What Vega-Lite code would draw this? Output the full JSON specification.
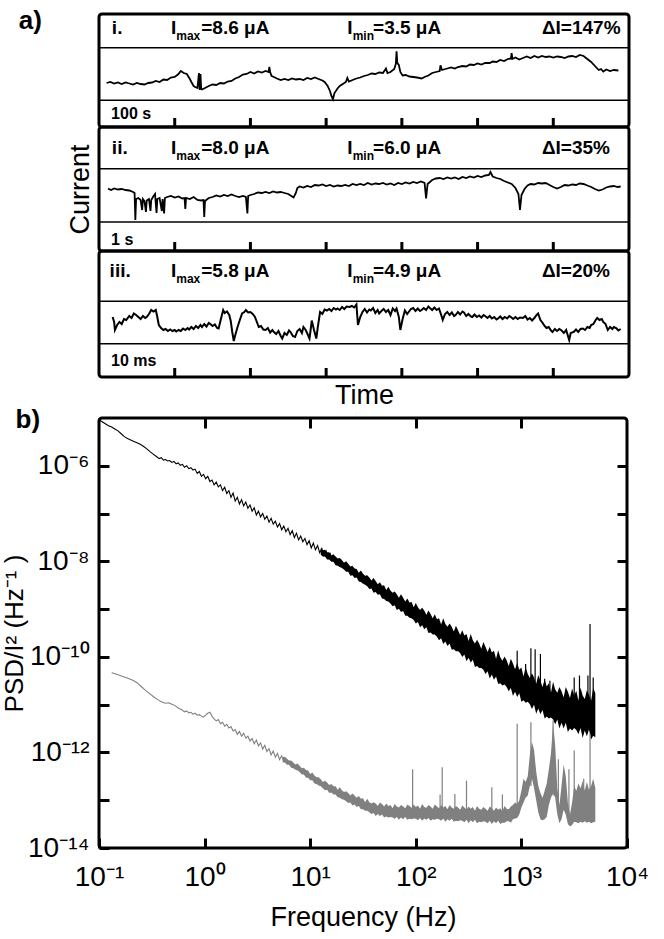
{
"$schema": "https://vega.github.io/schema/vega-lite/v6.json",
"background": "white",
"padding": {"left": 0, "top": 6, "right": 5, "bottom": 5},
"config": {
  "view": {"stroke": "black", "strokeWidth": 3, "cornerRadius": 3},
  "font": "Liberation Sans",
  "text": {"font": "Liberation Sans", "color": "black"},
  "axis": {"domain": false, "grid": false, "tickColor": "black", "tickWidth": 3, "tickSize": -10, "labelFont": "Liberation Sans", "labelColor": "black", "titleFont": "Liberation Sans", "titleColor": "black", "titleFontWeight": "normal", "labelOverlap": false, "labelFlush": false}
},
"datasets": {
"labels": [
 {"p":"i","roman":"i.","imax":"=8.6 μA","imin":"=3.5 μA","dI":"ΔI=147%","scale":"100 s"},
 {"p":"ii","roman":"ii.","imax":"=8.0 μA","imin":"=6.0 μA","dI":"ΔI=35%","scale":"1 s"},
 {"p":"iii","roman":"iii.","imax":"=5.8 μA","imin":"=4.9 μA","dI":"ΔI=20%","scale":"10 ms"}
],
"levels": [
 {"p":"i","level":26.7},{"p":"i","level":79.3},
 {"p":"ii","level":29},{"p":"ii","level":82.3},
 {"p":"iii","level":33.3},{"p":"iii","level":75.7}
],
"ticks": [{"t":1},{"t":2},{"t":3},{"t":4},{"t":5},{"t":6}],
"traces": [
{"p":"i","t":0.10,"v":44},{"p":"i","t":0.15,"v":45},{"p":"i","t":0.20,"v":43.5},{"p":"i","t":0.25,"v":44.5},{"p":"i","t":0.30,"v":43},{"p":"i","t":0.35,"v":44.5},{"p":"i","t":0.40,"v":43.5},{"p":"i","t":0.45,"v":42.5},{"p":"i","t":0.50,"v":44},{"p":"i","t":0.55,"v":43},{"p":"i","t":0.60,"v":42.5},{"p":"i","t":0.65,"v":44},{"p":"i","t":0.70,"v":44.5},{"p":"i","t":0.75,"v":46},{"p":"i","t":0.80,"v":45},{"p":"i","t":0.85,"v":47.5},{"p":"i","t":0.90,"v":47},{"p":"i","t":0.95,"v":49.5},{"p":"i","t":1.00,"v":50},{"p":"i","t":1.05,"v":53},{"p":"i","t":1.08,"v":56},{"p":"i","t":1.12,"v":54},{"p":"i","t":1.16,"v":53},{"p":"i","t":1.20,"v":48},{"p":"i","t":1.22,"v":45},{"p":"i","t":1.25,"v":41},{"p":"i","t":1.27,"v":40},{"p":"i","t":1.30,"v":39},{"p":"i","t":1.32,"v":54},{"p":"i","t":1.33,"v":37},{"p":"i","t":1.34,"v":53},{"p":"i","t":1.35,"v":38},{"p":"i","t":1.36,"v":37.5},{"p":"i","t":1.40,"v":39},{"p":"i","t":1.45,"v":41},{"p":"i","t":1.50,"v":42.5},{"p":"i","t":1.55,"v":42},{"p":"i","t":1.60,"v":44},{"p":"i","t":1.65,"v":43.5},{"p":"i","t":1.70,"v":45.5},{"p":"i","t":1.75,"v":46},{"p":"i","t":1.80,"v":48.5},{"p":"i","t":1.85,"v":50},{"p":"i","t":1.90,"v":52.5},{"p":"i","t":1.95,"v":53},{"p":"i","t":2.00,"v":55},{"p":"i","t":2.05,"v":53.5},{"p":"i","t":2.10,"v":55.5},{"p":"i","t":2.15,"v":54.5},{"p":"i","t":2.20,"v":56},{"p":"i","t":2.24,"v":55},{"p":"i","t":2.25,"v":60},{"p":"i","t":2.26,"v":55},{"p":"i","t":2.28,"v":51},{"p":"i","t":2.31,"v":50},{"p":"i","t":2.35,"v":48.5},{"p":"i","t":2.40,"v":47},{"p":"i","t":2.45,"v":48},{"p":"i","t":2.50,"v":47},{"p":"i","t":2.55,"v":48.5},{"p":"i","t":2.60,"v":47.5},{"p":"i","t":2.65,"v":48},{"p":"i","t":2.70,"v":47},{"p":"i","t":2.75,"v":49},{"p":"i","t":2.80,"v":48},{"p":"i","t":2.85,"v":49.5},{"p":"i","t":2.90,"v":48},{"p":"i","t":2.95,"v":46.5},{"p":"i","t":2.98,"v":45},{"p":"i","t":3.02,"v":41},{"p":"i","t":3.05,"v":36},{"p":"i","t":3.07,"v":31},{"p":"i","t":3.09,"v":27.7},{"p":"i","t":3.11,"v":34},{"p":"i","t":3.15,"v":38.5},{"p":"i","t":3.18,"v":41},{"p":"i","t":3.22,"v":43},{"p":"i","t":3.26,"v":45},{"p":"i","t":3.28,"v":49},{"p":"i","t":3.30,"v":45.5},{"p":"i","t":3.35,"v":47},{"p":"i","t":3.40,"v":48.5},{"p":"i","t":3.45,"v":49.5},{"p":"i","t":3.50,"v":51},{"p":"i","t":3.55,"v":52},{"p":"i","t":3.60,"v":53.5},{"p":"i","t":3.65,"v":53},{"p":"i","t":3.70,"v":54.5},{"p":"i","t":3.75,"v":54},{"p":"i","t":3.79,"v":58.5},{"p":"i","t":3.81,"v":54},{"p":"i","t":3.85,"v":55},{"p":"i","t":3.90,"v":58},{"p":"i","t":3.92,"v":63},{"p":"i","t":3.93,"v":75.7},{"p":"i","t":3.94,"v":64},{"p":"i","t":3.96,"v":62},{"p":"i","t":3.98,"v":55},{"p":"i","t":4.01,"v":51.5},{"p":"i","t":4.05,"v":52},{"p":"i","t":4.10,"v":50.5},{"p":"i","t":4.15,"v":50},{"p":"i","t":4.20,"v":49.5},{"p":"i","t":4.26,"v":48.5},{"p":"i","t":4.30,"v":50},{"p":"i","t":4.35,"v":51.5},{"p":"i","t":4.40,"v":54},{"p":"i","t":4.45,"v":55},{"p":"i","t":4.50,"v":56},{"p":"i","t":4.51,"v":61.7},{"p":"i","t":4.53,"v":57},{"p":"i","t":4.60,"v":58.5},{"p":"i","t":4.65,"v":59.5},{"p":"i","t":4.70,"v":58.5},{"p":"i","t":4.74,"v":60},{"p":"i","t":4.80,"v":61},{"p":"i","t":4.85,"v":60.5},{"p":"i","t":4.90,"v":62.5},{"p":"i","t":4.95,"v":62},{"p":"i","t":5.00,"v":63.5},{"p":"i","t":5.05,"v":62.5},{"p":"i","t":5.10,"v":64},{"p":"i","t":5.16,"v":64},{"p":"i","t":5.20,"v":65.5},{"p":"i","t":5.25,"v":65},{"p":"i","t":5.30,"v":67},{"p":"i","t":5.35,"v":66},{"p":"i","t":5.40,"v":68},{"p":"i","t":5.44,"v":68.5},{"p":"i","t":5.45,"v":74},{"p":"i","t":5.46,"v":68},{"p":"i","t":5.50,"v":69.5},{"p":"i","t":5.55,"v":67.5},{"p":"i","t":5.60,"v":69},{"p":"i","t":5.65,"v":70.5},{"p":"i","t":5.70,"v":69},{"p":"i","t":5.75,"v":71},{"p":"i","t":5.80,"v":69.5},{"p":"i","t":5.85,"v":71},{"p":"i","t":5.90,"v":70},{"p":"i","t":5.95,"v":70.5},{"p":"i","t":6.00,"v":69.5},{"p":"i","t":6.05,"v":70.5},{"p":"i","t":6.10,"v":70},{"p":"i","t":6.15,"v":69},{"p":"i","t":6.20,"v":70.5},{"p":"i","t":6.25,"v":71},{"p":"i","t":6.30,"v":70},{"p":"i","t":6.35,"v":72},{"p":"i","t":6.40,"v":71},{"p":"i","t":6.45,"v":68},{"p":"i","t":6.50,"v":65},{"p":"i","t":6.55,"v":61},{"p":"i","t":6.60,"v":57},{"p":"i","t":6.63,"v":58},{"p":"i","t":6.66,"v":55.5},{"p":"i","t":6.70,"v":57.5},{"p":"i","t":6.75,"v":56},{"p":"i","t":6.80,"v":57},{"p":"i","t":6.86,"v":56.5},
{"p":"ii","t":0.12,"v":62.3},{"p":"ii","t":0.16,"v":61},{"p":"ii","t":0.20,"v":62.5},{"p":"ii","t":0.25,"v":61.5},{"p":"ii","t":0.30,"v":62},{"p":"ii","t":0.35,"v":61},{"p":"ii","t":0.40,"v":60.5},{"p":"ii","t":0.45,"v":59},{"p":"ii","t":0.47,"v":58},{"p":"ii","t":0.48,"v":31},{"p":"ii","t":0.49,"v":52},{"p":"ii","t":0.52,"v":53},{"p":"ii","t":0.55,"v":51},{"p":"ii","t":0.57,"v":41},{"p":"ii","t":0.58,"v":52},{"p":"ii","t":0.60,"v":50},{"p":"ii","t":0.62,"v":39},{"p":"ii","t":0.63,"v":50.5},{"p":"ii","t":0.66,"v":52},{"p":"ii","t":0.68,"v":40},{"p":"ii","t":0.69,"v":51},{"p":"ii","t":0.72,"v":55},{"p":"ii","t":0.74,"v":57},{"p":"ii","t":0.76,"v":38},{"p":"ii","t":0.77,"v":52},{"p":"ii","t":0.80,"v":53},{"p":"ii","t":0.83,"v":40},{"p":"ii","t":0.84,"v":52},{"p":"ii","t":0.86,"v":37.5},{"p":"ii","t":0.87,"v":53},{"p":"ii","t":0.90,"v":54},{"p":"ii","t":0.95,"v":55},{"p":"ii","t":1.00,"v":53.5},{"p":"ii","t":1.05,"v":54.5},{"p":"ii","t":1.10,"v":52.5},{"p":"ii","t":1.13,"v":53},{"p":"ii","t":1.14,"v":42},{"p":"ii","t":1.15,"v":53},{"p":"ii","t":1.20,"v":52},{"p":"ii","t":1.25,"v":54},{"p":"ii","t":1.30,"v":51},{"p":"ii","t":1.35,"v":50.5},{"p":"ii","t":1.38,"v":51},{"p":"ii","t":1.39,"v":34},{"p":"ii","t":1.40,"v":50},{"p":"ii","t":1.45,"v":53},{"p":"ii","t":1.50,"v":54},{"p":"ii","t":1.55,"v":55.5},{"p":"ii","t":1.60,"v":54.5},{"p":"ii","t":1.65,"v":56},{"p":"ii","t":1.70,"v":55},{"p":"ii","t":1.75,"v":56.5},{"p":"ii","t":1.80,"v":55},{"p":"ii","t":1.85,"v":54},{"p":"ii","t":1.90,"v":55},{"p":"ii","t":1.94,"v":54},{"p":"ii","t":1.96,"v":37.5},{"p":"ii","t":1.97,"v":55},{"p":"ii","t":2.00,"v":56},{"p":"ii","t":2.05,"v":57},{"p":"ii","t":2.10,"v":58.5},{"p":"ii","t":2.15,"v":58},{"p":"ii","t":2.20,"v":59},{"p":"ii","t":2.25,"v":58},{"p":"ii","t":2.30,"v":59.5},{"p":"ii","t":2.35,"v":58.5},{"p":"ii","t":2.40,"v":59},{"p":"ii","t":2.45,"v":58},{"p":"ii","t":2.50,"v":57},{"p":"ii","t":2.54,"v":55},{"p":"ii","t":2.57,"v":53.5},{"p":"ii","t":2.60,"v":58},{"p":"ii","t":2.62,"v":63},{"p":"ii","t":2.65,"v":64.5},{"p":"ii","t":2.70,"v":63.5},{"p":"ii","t":2.75,"v":65},{"p":"ii","t":2.80,"v":64},{"p":"ii","t":2.85,"v":66},{"p":"ii","t":2.90,"v":65.5},{"p":"ii","t":2.95,"v":66.5},{"p":"ii","t":3.00,"v":65},{"p":"ii","t":3.05,"v":66},{"p":"ii","t":3.10,"v":64.5},{"p":"ii","t":3.15,"v":65.5},{"p":"ii","t":3.20,"v":65},{"p":"ii","t":3.25,"v":66},{"p":"ii","t":3.30,"v":65},{"p":"ii","t":3.35,"v":67},{"p":"ii","t":3.40,"v":66},{"p":"ii","t":3.45,"v":67},{"p":"ii","t":3.50,"v":66},{"p":"ii","t":3.55,"v":68},{"p":"ii","t":3.60,"v":66.5},{"p":"ii","t":3.65,"v":67.5},{"p":"ii","t":3.70,"v":67},{"p":"ii","t":3.75,"v":68},{"p":"ii","t":3.80,"v":66.5},{"p":"ii","t":3.85,"v":67.5},{"p":"ii","t":3.90,"v":66},{"p":"ii","t":3.95,"v":68},{"p":"ii","t":4.00,"v":67},{"p":"ii","t":4.05,"v":68.5},{"p":"ii","t":4.10,"v":67.5},{"p":"ii","t":4.15,"v":69},{"p":"ii","t":4.20,"v":68},{"p":"ii","t":4.25,"v":69.5},{"p":"ii","t":4.30,"v":68},{"p":"ii","t":4.32,"v":52.5},{"p":"ii","t":4.34,"v":67},{"p":"ii","t":4.40,"v":71},{"p":"ii","t":4.45,"v":72.5},{"p":"ii","t":4.50,"v":73},{"p":"ii","t":4.55,"v":72},{"p":"ii","t":4.60,"v":73.5},{"p":"ii","t":4.65,"v":72.5},{"p":"ii","t":4.70,"v":73.5},{"p":"ii","t":4.75,"v":72},{"p":"ii","t":4.80,"v":74},{"p":"ii","t":4.85,"v":73},{"p":"ii","t":4.90,"v":74.5},{"p":"ii","t":4.95,"v":73.5},{"p":"ii","t":5.00,"v":75},{"p":"ii","t":5.05,"v":74},{"p":"ii","t":5.10,"v":75.5},{"p":"ii","t":5.15,"v":76},{"p":"ii","t":5.17,"v":79},{"p":"ii","t":5.20,"v":74.5},{"p":"ii","t":5.25,"v":73},{"p":"ii","t":5.30,"v":72},{"p":"ii","t":5.35,"v":70},{"p":"ii","t":5.40,"v":68.5},{"p":"ii","t":5.45,"v":67},{"p":"ii","t":5.50,"v":63},{"p":"ii","t":5.54,"v":57},{"p":"ii","t":5.56,"v":41},{"p":"ii","t":5.58,"v":56},{"p":"ii","t":5.62,"v":62},{"p":"ii","t":5.66,"v":65.5},{"p":"ii","t":5.70,"v":67},{"p":"ii","t":5.75,"v":66.5},{"p":"ii","t":5.80,"v":68},{"p":"ii","t":5.85,"v":67.5},{"p":"ii","t":5.90,"v":68},{"p":"ii","t":5.95,"v":66},{"p":"ii","t":6.00,"v":64},{"p":"ii","t":6.05,"v":62.5},{"p":"ii","t":6.10,"v":64},{"p":"ii","t":6.15,"v":66},{"p":"ii","t":6.20,"v":65.5},{"p":"ii","t":6.25,"v":66.5},{"p":"ii","t":6.30,"v":66},{"p":"ii","t":6.35,"v":67.5},{"p":"ii","t":6.40,"v":67},{"p":"ii","t":6.45,"v":65.5},{"p":"ii","t":6.50,"v":64},{"p":"ii","t":6.55,"v":62},{"p":"ii","t":6.60,"v":60.5},{"p":"ii","t":6.65,"v":61.5},{"p":"ii","t":6.70,"v":63.5},{"p":"ii","t":6.75,"v":64.5},{"p":"ii","t":6.80,"v":65},{"p":"ii","t":6.85,"v":64},{"p":"ii","t":6.89,"v":64.5},
{"p":"iii","t":0.18,"v":60},{"p":"iii","t":0.20,"v":55},{"p":"iii","t":0.21,"v":47},{"p":"iii","t":0.24,"v":52},{"p":"iii","t":0.27,"v":55},{"p":"iii","t":0.30,"v":53},{"p":"iii","t":0.33,"v":58},{"p":"iii","t":0.36,"v":57},{"p":"iii","t":0.40,"v":61},{"p":"iii","t":0.43,"v":59},{"p":"iii","t":0.46,"v":63.5},{"p":"iii","t":0.49,"v":62},{"p":"iii","t":0.52,"v":60},{"p":"iii","t":0.55,"v":58},{"p":"iii","t":0.58,"v":61},{"p":"iii","t":0.61,"v":59},{"p":"iii","t":0.63,"v":60},{"p":"iii","t":0.66,"v":63},{"p":"iii","t":0.69,"v":67},{"p":"iii","t":0.72,"v":65.5},{"p":"iii","t":0.75,"v":67},{"p":"iii","t":0.77,"v":60},{"p":"iii","t":0.79,"v":52},{"p":"iii","t":0.82,"v":49},{"p":"iii","t":0.85,"v":47},{"p":"iii","t":0.88,"v":48},{"p":"iii","t":0.91,"v":46},{"p":"iii","t":0.94,"v":47.5},{"p":"iii","t":0.97,"v":46},{"p":"iii","t":1.00,"v":47},{"p":"iii","t":1.02,"v":45.5},{"p":"iii","t":1.05,"v":47},{"p":"iii","t":1.08,"v":46},{"p":"iii","t":1.11,"v":48.5},{"p":"iii","t":1.14,"v":47},{"p":"iii","t":1.17,"v":49},{"p":"iii","t":1.19,"v":47.5},{"p":"iii","t":1.22,"v":50},{"p":"iii","t":1.25,"v":48},{"p":"iii","t":1.28,"v":51},{"p":"iii","t":1.31,"v":49},{"p":"iii","t":1.34,"v":52},{"p":"iii","t":1.36,"v":50},{"p":"iii","t":1.39,"v":53},{"p":"iii","t":1.42,"v":50.5},{"p":"iii","t":1.45,"v":54},{"p":"iii","t":1.47,"v":53},{"p":"iii","t":1.50,"v":51},{"p":"iii","t":1.53,"v":52.5},{"p":"iii","t":1.56,"v":49},{"p":"iii","t":1.58,"v":48.5},{"p":"iii","t":1.61,"v":58},{"p":"iii","t":1.64,"v":67},{"p":"iii","t":1.66,"v":64},{"p":"iii","t":1.69,"v":65.5},{"p":"iii","t":1.72,"v":62},{"p":"iii","t":1.74,"v":56},{"p":"iii","t":1.76,"v":45},{"p":"iii","t":1.78,"v":36},{"p":"iii","t":1.80,"v":42},{"p":"iii","t":1.83,"v":50},{"p":"iii","t":1.86,"v":57},{"p":"iii","t":1.89,"v":63.5},{"p":"iii","t":1.92,"v":65},{"p":"iii","t":1.94,"v":67},{"p":"iii","t":1.97,"v":64.5},{"p":"iii","t":2.00,"v":65},{"p":"iii","t":2.03,"v":63},{"p":"iii","t":2.06,"v":60},{"p":"iii","t":2.09,"v":54},{"p":"iii","t":2.11,"v":50},{"p":"iii","t":2.14,"v":51},{"p":"iii","t":2.17,"v":47.5},{"p":"iii","t":2.20,"v":47},{"p":"iii","t":2.23,"v":49},{"p":"iii","t":2.26,"v":44.5},{"p":"iii","t":2.29,"v":47},{"p":"iii","t":2.31,"v":45},{"p":"iii","t":2.34,"v":43},{"p":"iii","t":2.37,"v":46},{"p":"iii","t":2.40,"v":41},{"p":"iii","t":2.42,"v":38.5},{"p":"iii","t":2.45,"v":44},{"p":"iii","t":2.48,"v":42},{"p":"iii","t":2.51,"v":46.5},{"p":"iii","t":2.53,"v":45},{"p":"iii","t":2.56,"v":41},{"p":"iii","t":2.59,"v":40},{"p":"iii","t":2.62,"v":46},{"p":"iii","t":2.65,"v":48},{"p":"iii","t":2.68,"v":44},{"p":"iii","t":2.70,"v":50},{"p":"iii","t":2.73,"v":47},{"p":"iii","t":2.76,"v":42},{"p":"iii","t":2.78,"v":38.5},{"p":"iii","t":2.80,"v":50},{"p":"iii","t":2.81,"v":56.5},{"p":"iii","t":2.84,"v":47},{"p":"iii","t":2.87,"v":38.5},{"p":"iii","t":2.89,"v":50},{"p":"iii","t":2.92,"v":65},{"p":"iii","t":2.95,"v":63},{"p":"iii","t":2.98,"v":67.5},{"p":"iii","t":3.01,"v":66.5},{"p":"iii","t":3.04,"v":68},{"p":"iii","t":3.07,"v":66},{"p":"iii","t":3.10,"v":69},{"p":"iii","t":3.13,"v":67.5},{"p":"iii","t":3.15,"v":68.5},{"p":"iii","t":3.18,"v":67},{"p":"iii","t":3.21,"v":70},{"p":"iii","t":3.24,"v":68},{"p":"iii","t":3.27,"v":70.5},{"p":"iii","t":3.31,"v":70},{"p":"iii","t":3.34,"v":71},{"p":"iii","t":3.37,"v":69.5},{"p":"iii","t":3.40,"v":72.5},{"p":"iii","t":3.42,"v":52},{"p":"iii","t":3.45,"v":60},{"p":"iii","t":3.48,"v":65},{"p":"iii","t":3.51,"v":68},{"p":"iii","t":3.54,"v":64.5},{"p":"iii","t":3.57,"v":67.5},{"p":"iii","t":3.59,"v":66.5},{"p":"iii","t":3.62,"v":69},{"p":"iii","t":3.65,"v":64},{"p":"iii","t":3.68,"v":67},{"p":"iii","t":3.70,"v":63.5},{"p":"iii","t":3.73,"v":66},{"p":"iii","t":3.76,"v":68},{"p":"iii","t":3.79,"v":65},{"p":"iii","t":3.82,"v":67},{"p":"iii","t":3.85,"v":62},{"p":"iii","t":3.88,"v":68.5},{"p":"iii","t":3.91,"v":66},{"p":"iii","t":3.93,"v":68.5},{"p":"iii","t":3.96,"v":60},{"p":"iii","t":3.98,"v":47},{"p":"iii","t":4.01,"v":58},{"p":"iii","t":4.04,"v":66.5},{"p":"iii","t":4.07,"v":63},{"p":"iii","t":4.09,"v":65},{"p":"iii","t":4.12,"v":68},{"p":"iii","t":4.15,"v":69},{"p":"iii","t":4.18,"v":66},{"p":"iii","t":4.21,"v":68.5},{"p":"iii","t":4.24,"v":66},{"p":"iii","t":4.26,"v":67},{"p":"iii","t":4.29,"v":69},{"p":"iii","t":4.32,"v":67},{"p":"iii","t":4.35,"v":70.5},{"p":"iii","t":4.37,"v":69},{"p":"iii","t":4.40,"v":67},{"p":"iii","t":4.43,"v":69.5},{"p":"iii","t":4.46,"v":67},{"p":"iii","t":4.49,"v":68.5},{"p":"iii","t":4.52,"v":62},{"p":"iii","t":4.54,"v":57},{"p":"iii","t":4.57,"v":63},{"p":"iii","t":4.60,"v":65},{"p":"iii","t":4.63,"v":62},{"p":"iii","t":4.66,"v":64.5},{"p":"iii","t":4.69,"v":61},{"p":"iii","t":4.71,"v":62},{"p":"iii","t":4.74,"v":65},{"p":"iii","t":4.77,"v":62.5},{"p":"iii","t":4.80,"v":65.5},{"p":"iii","t":4.82,"v":64.5},{"p":"iii","t":4.85,"v":61},{"p":"iii","t":4.88,"v":63},{"p":"iii","t":4.91,"v":60.5},{"p":"iii","t":4.93,"v":60},{"p":"iii","t":4.96,"v":62.5},{"p":"iii","t":4.99,"v":60},{"p":"iii","t":5.02,"v":61.5},{"p":"iii","t":5.05,"v":59.5},{"p":"iii","t":5.08,"v":62},{"p":"iii","t":5.10,"v":61},{"p":"iii","t":5.13,"v":59},{"p":"iii","t":5.16,"v":61},{"p":"iii","t":5.19,"v":58.5},{"p":"iii","t":5.22,"v":60},{"p":"iii","t":5.25,"v":57.5},{"p":"iii","t":5.27,"v":58.5},{"p":"iii","t":5.30,"v":60.5},{"p":"iii","t":5.33,"v":58},{"p":"iii","t":5.36,"v":60},{"p":"iii","t":5.39,"v":58.5},{"p":"iii","t":5.42,"v":61},{"p":"iii","t":5.44,"v":60},{"p":"iii","t":5.47,"v":58},{"p":"iii","t":5.50,"v":60},{"p":"iii","t":5.53,"v":58},{"p":"iii","t":5.56,"v":59.5},{"p":"iii","t":5.60,"v":59},{"p":"iii","t":5.63,"v":61},{"p":"iii","t":5.66,"v":57.5},{"p":"iii","t":5.69,"v":59},{"p":"iii","t":5.72,"v":56.5},{"p":"iii","t":5.75,"v":59},{"p":"iii","t":5.78,"v":62},{"p":"iii","t":5.80,"v":63.5},{"p":"iii","t":5.83,"v":57},{"p":"iii","t":5.86,"v":54},{"p":"iii","t":5.88,"v":51.5},{"p":"iii","t":5.91,"v":49},{"p":"iii","t":5.94,"v":50},{"p":"iii","t":5.97,"v":46.5},{"p":"iii","t":5.99,"v":45},{"p":"iii","t":6.02,"v":48},{"p":"iii","t":6.05,"v":46},{"p":"iii","t":6.08,"v":48},{"p":"iii","t":6.11,"v":46.5},{"p":"iii","t":6.14,"v":44},{"p":"iii","t":6.17,"v":47},{"p":"iii","t":6.19,"v":42},{"p":"iii","t":6.21,"v":37},{"p":"iii","t":6.23,"v":44},{"p":"iii","t":6.27,"v":45},{"p":"iii","t":6.30,"v":47.5},{"p":"iii","t":6.33,"v":45},{"p":"iii","t":6.36,"v":48},{"p":"iii","t":6.39,"v":48.5},{"p":"iii","t":6.42,"v":47},{"p":"iii","t":6.45,"v":50},{"p":"iii","t":6.48,"v":49},{"p":"iii","t":6.50,"v":52},{"p":"iii","t":6.53,"v":53},{"p":"iii","t":6.56,"v":57},{"p":"iii","t":6.58,"v":59},{"p":"iii","t":6.61,"v":57},{"p":"iii","t":6.64,"v":58},{"p":"iii","t":6.66,"v":55},{"p":"iii","t":6.69,"v":53},{"p":"iii","t":6.72,"v":47},{"p":"iii","t":6.75,"v":50},{"p":"iii","t":6.78,"v":48},{"p":"iii","t":6.80,"v":50},{"p":"iii","t":6.83,"v":49},{"p":"iii","t":6.86,"v":46.5},{"p":"iii","t":6.89,"v":48}
],
"psd_line": [
{"s":"black","logf":-1.00,"logp":-5.04},{"s":"black","logf":-0.97,"logp":-5.08},{"s":"black","logf":-0.94,"logp":-5.12},{"s":"black","logf":-0.91,"logp":-5.16},{"s":"black","logf":-0.88,"logp":-5.19},{"s":"black","logf":-0.85,"logp":-5.23},{"s":"black","logf":-0.82,"logp":-5.27},{"s":"black","logf":-0.79,"logp":-5.33},{"s":"black","logf":-0.76,"logp":-5.39},{"s":"black","logf":-0.73,"logp":-5.43},{"s":"black","logf":-0.70,"logp":-5.46},{"s":"black","logf":-0.67,"logp":-5.49},{"s":"black","logf":-0.64,"logp":-5.52},{"s":"black","logf":-0.61,"logp":-5.55},{"s":"black","logf":-0.58,"logp":-5.59},{"s":"black","logf":-0.55,"logp":-5.64},{"s":"black","logf":-0.52,"logp":-5.70},{"s":"black","logf":-0.49,"logp":-5.75},{"s":"black","logf":-0.46,"logp":-5.80},{"s":"black","logf":-0.43,"logp":-5.85},{"s":"black","logf":-0.41,"logp":-5.83},{"s":"black","logf":-0.39,"logp":-5.88},{"s":"black","logf":-0.37,"logp":-5.87},{"s":"black","logf":-0.35,"logp":-5.90},{"s":"black","logf":-0.33,"logp":-5.89},{"s":"black","logf":-0.31,"logp":-5.93},{"s":"black","logf":-0.29,"logp":-5.91},{"s":"black","logf":-0.27,"logp":-5.96},{"s":"black","logf":-0.25,"logp":-5.94},{"s":"black","logf":-0.23,"logp":-5.99},{"s":"black","logf":-0.21,"logp":-5.97},{"s":"black","logf":-0.19,"logp":-6.03},{"s":"black","logf":-0.17,"logp":-6.00},{"s":"black","logf":-0.15,"logp":-6.06},{"s":"black","logf":-0.13,"logp":-6.04},{"s":"black","logf":-0.11,"logp":-6.09},{"s":"black","logf":-0.09,"logp":-6.07},{"s":"black","logf":-0.07,"logp":-6.16},{"s":"black","logf":-0.05,"logp":-6.12},{"s":"black","logf":-0.03,"logp":-6.22},{"s":"black","logf":-0.01,"logp":-6.18},{"s":"black","logf":0.01,"logp":-6.27},{"s":"black","logf":0.03,"logp":-6.22},{"s":"black","logf":0.05,"logp":-6.33},{"s":"black","logf":0.07,"logp":-6.30},{"s":"black","logf":0.09,"logp":-6.40},{"s":"black","logf":0.11,"logp":-6.34},{"s":"black","logf":0.13,"logp":-6.44},{"s":"black","logf":0.15,"logp":-6.40},{"s":"black","logf":0.17,"logp":-6.52},{"s":"black","logf":0.19,"logp":-6.45},{"s":"black","logf":0.21,"logp":-6.58},{"s":"black","logf":0.23,"logp":-6.52},{"s":"black","logf":0.25,"logp":-6.66},{"s":"black","logf":0.27,"logp":-6.57},{"s":"black","logf":0.29,"logp":-6.74},{"s":"black","logf":0.31,"logp":-6.66},{"s":"black","logf":0.33,"logp":-6.80},{"s":"black","logf":0.35,"logp":-6.71},{"s":"black","logf":0.37,"logp":-6.84},{"s":"black","logf":0.39,"logp":-6.76},{"s":"black","logf":0.41,"logp":-6.89},{"s":"black","logf":0.43,"logp":-6.82},{"s":"black","logf":0.45,"logp":-6.95},{"s":"black","logf":0.47,"logp":-6.88},{"s":"black","logf":0.49,"logp":-7.03},{"s":"black","logf":0.51,"logp":-6.95},{"s":"black","logf":0.53,"logp":-7.07},{"s":"black","logf":0.55,"logp":-7.00},{"s":"black","logf":0.57,"logp":-7.12},{"s":"black","logf":0.59,"logp":-7.05},{"s":"black","logf":0.61,"logp":-7.18},{"s":"black","logf":0.63,"logp":-7.10},{"s":"black","logf":0.65,"logp":-7.22},{"s":"black","logf":0.67,"logp":-7.16},{"s":"black","logf":0.69,"logp":-7.28},{"s":"black","logf":0.71,"logp":-7.21},{"s":"black","logf":0.73,"logp":-7.34},{"s":"black","logf":0.75,"logp":-7.26},{"s":"black","logf":0.77,"logp":-7.38},{"s":"black","logf":0.79,"logp":-7.31},{"s":"black","logf":0.81,"logp":-7.44},{"s":"black","logf":0.83,"logp":-7.36},{"s":"black","logf":0.85,"logp":-7.50},{"s":"black","logf":0.87,"logp":-7.41},{"s":"black","logf":0.89,"logp":-7.55},{"s":"black","logf":0.91,"logp":-7.47},{"s":"black","logf":0.93,"logp":-7.59},{"s":"black","logf":0.95,"logp":-7.52},{"s":"black","logf":0.97,"logp":-7.65},{"s":"black","logf":0.99,"logp":-7.57},{"s":"black","logf":1.01,"logp":-7.72},{"s":"black","logf":1.03,"logp":-7.62},{"s":"black","logf":1.05,"logp":-7.76},{"s":"black","logf":1.07,"logp":-7.67},{"s":"black","logf":1.09,"logp":-7.82},{"s":"black","logf":1.11,"logp":-7.73},{"s":"black","logf":1.13,"logp":-7.88},{"s":"black","logf":1.15,"logp":-7.78},{"s":"black","logf":1.17,"logp":-7.93},{"s":"black","logf":1.19,"logp":-7.84},{"s":"black","logf":1.21,"logp":-7.98},
{"s":"gray","logf":-0.88,"logp":-10.33},{"s":"gray","logf":-0.84,"logp":-10.36},{"s":"gray","logf":-0.80,"logp":-10.39},{"s":"gray","logf":-0.76,"logp":-10.42},{"s":"gray","logf":-0.72,"logp":-10.45},{"s":"gray","logf":-0.68,"logp":-10.49},{"s":"gray","logf":-0.64,"logp":-10.54},{"s":"gray","logf":-0.60,"logp":-10.62},{"s":"gray","logf":-0.56,"logp":-10.70},{"s":"gray","logf":-0.52,"logp":-10.77},{"s":"gray","logf":-0.48,"logp":-10.84},{"s":"gray","logf":-0.44,"logp":-10.90},{"s":"gray","logf":-0.40,"logp":-10.95},{"s":"gray","logf":-0.37,"logp":-10.97},{"s":"gray","logf":-0.34,"logp":-10.96},{"s":"gray","logf":-0.31,"logp":-10.99},{"s":"gray","logf":-0.28,"logp":-11.02},{"s":"gray","logf":-0.25,"logp":-11.07},{"s":"gray","logf":-0.22,"logp":-11.10},{"s":"gray","logf":-0.19,"logp":-11.15},{"s":"gray","logf":-0.17,"logp":-11.13},{"s":"gray","logf":-0.15,"logp":-11.17},{"s":"gray","logf":-0.13,"logp":-11.16},{"s":"gray","logf":-0.11,"logp":-11.20},{"s":"gray","logf":-0.09,"logp":-11.18},{"s":"gray","logf":-0.07,"logp":-11.22},{"s":"gray","logf":-0.05,"logp":-11.21},{"s":"gray","logf":-0.03,"logp":-11.24},{"s":"gray","logf":-0.01,"logp":-11.26},{"s":"gray","logf":0.01,"logp":-11.22},{"s":"gray","logf":0.03,"logp":-11.18},{"s":"gray","logf":0.05,"logp":-11.16},{"s":"gray","logf":0.07,"logp":-11.24},{"s":"gray","logf":0.09,"logp":-11.30},{"s":"gray","logf":0.11,"logp":-11.34},{"s":"gray","logf":0.13,"logp":-11.31},{"s":"gray","logf":0.15,"logp":-11.40},{"s":"gray","logf":0.17,"logp":-11.37},{"s":"gray","logf":0.19,"logp":-11.45},{"s":"gray","logf":0.21,"logp":-11.41},{"s":"gray","logf":0.23,"logp":-11.49},{"s":"gray","logf":0.25,"logp":-11.46},{"s":"gray","logf":0.27,"logp":-11.55},{"s":"gray","logf":0.29,"logp":-11.52},{"s":"gray","logf":0.31,"logp":-11.62},{"s":"gray","logf":0.33,"logp":-11.56},{"s":"gray","logf":0.35,"logp":-11.66},{"s":"gray","logf":0.37,"logp":-11.60},{"s":"gray","logf":0.39,"logp":-11.70},{"s":"gray","logf":0.41,"logp":-11.66},{"s":"gray","logf":0.43,"logp":-11.76},{"s":"gray","logf":0.45,"logp":-11.71},{"s":"gray","logf":0.47,"logp":-11.82},{"s":"gray","logf":0.49,"logp":-11.74},{"s":"gray","logf":0.51,"logp":-11.86},{"s":"gray","logf":0.53,"logp":-11.80},{"s":"gray","logf":0.55,"logp":-11.93},{"s":"gray","logf":0.57,"logp":-11.85},{"s":"gray","logf":0.59,"logp":-11.98},{"s":"gray","logf":0.61,"logp":-11.92},{"s":"gray","logf":0.63,"logp":-12.05},{"s":"gray","logf":0.65,"logp":-11.97},{"s":"gray","logf":0.67,"logp":-12.10},{"s":"gray","logf":0.69,"logp":-12.02},{"s":"gray","logf":0.71,"logp":-12.15},{"s":"gray","logf":0.73,"logp":-12.07},{"s":"gray","logf":0.75,"logp":-12.20}
],
"psd_band": [
{"s":"black","logf":1.10,"lo":-7.86,"hi":-7.72},{"s":"black","logf":1.12,"lo":-7.90,"hi":-7.77},{"s":"black","logf":1.14,"lo":-7.90,"hi":-7.76},{"s":"black","logf":1.16,"lo":-7.96,"hi":-7.81},{"s":"black","logf":1.18,"lo":-7.96,"hi":-7.81},{"s":"black","logf":1.20,"lo":-8.01,"hi":-7.88},{"s":"black","logf":1.22,"lo":-8.01,"hi":-7.85},{"s":"black","logf":1.24,"lo":-8.08,"hi":-7.90},{"s":"black","logf":1.26,"lo":-8.09,"hi":-7.94},{"s":"black","logf":1.28,"lo":-8.12,"hi":-7.93},{"s":"black","logf":1.30,"lo":-8.14,"hi":-7.97},{"s":"black","logf":1.32,"lo":-8.17,"hi":-8.03},{"s":"black","logf":1.34,"lo":-8.22,"hi":-8.00},{"s":"black","logf":1.36,"lo":-8.22,"hi":-8.05},{"s":"black","logf":1.38,"lo":-8.30,"hi":-8.11},{"s":"black","logf":1.40,"lo":-8.29,"hi":-8.09},{"s":"black","logf":1.42,"lo":-8.35,"hi":-8.15},{"s":"black","logf":1.44,"lo":-8.34,"hi":-8.16},{"s":"black","logf":1.46,"lo":-8.42,"hi":-8.24},{"s":"black","logf":1.48,"lo":-8.43,"hi":-8.19},{"s":"black","logf":1.50,"lo":-8.47,"hi":-8.26},{"s":"black","logf":1.52,"lo":-8.49,"hi":-8.30},{"s":"black","logf":1.54,"lo":-8.52,"hi":-8.29},{"s":"black","logf":1.56,"lo":-8.58,"hi":-8.34},{"s":"black","logf":1.58,"lo":-8.57,"hi":-8.40},{"s":"black","logf":1.60,"lo":-8.66,"hi":-8.35},{"s":"black","logf":1.62,"lo":-8.64,"hi":-8.41},{"s":"black","logf":1.64,"lo":-8.70,"hi":-8.48},{"s":"black","logf":1.66,"lo":-8.69,"hi":-8.44},{"s":"black","logf":1.68,"lo":-8.78,"hi":-8.51},{"s":"black","logf":1.70,"lo":-8.79,"hi":-8.50},{"s":"black","logf":1.72,"lo":-8.83,"hi":-8.60},{"s":"black","logf":1.74,"lo":-8.84,"hi":-8.53},{"s":"black","logf":1.76,"lo":-8.88,"hi":-8.61},{"s":"black","logf":1.78,"lo":-8.94,"hi":-8.66},{"s":"black","logf":1.80,"lo":-8.92,"hi":-8.63},{"s":"black","logf":1.82,"lo":-9.02,"hi":-8.69},{"s":"black","logf":1.84,"lo":-8.99,"hi":-8.76},{"s":"black","logf":1.86,"lo":-9.06,"hi":-8.69},{"s":"black","logf":1.88,"lo":-9.04,"hi":-8.76},{"s":"black","logf":1.90,"lo":-9.14,"hi":-8.84},{"s":"black","logf":1.92,"lo":-9.14,"hi":-8.78},{"s":"black","logf":1.94,"lo":-9.18,"hi":-8.86},{"s":"black","logf":1.96,"lo":-9.19,"hi":-8.85},{"s":"black","logf":1.98,"lo":-9.23,"hi":-8.96},{"s":"black","logf":2.00,"lo":-9.30,"hi":-8.87},{"s":"black","logf":2.02,"lo":-9.27,"hi":-8.96},{"s":"black","logf":2.04,"lo":-9.38,"hi":-9.02},{"s":"black","logf":2.06,"lo":-9.34,"hi":-8.97},{"s":"black","logf":2.08,"lo":-9.42,"hi":-9.03},{"s":"black","logf":2.10,"lo":-9.38,"hi":-9.12},{"s":"black","logf":2.12,"lo":-9.50,"hi":-9.03},{"s":"black","logf":2.14,"lo":-9.49,"hi":-9.10},{"s":"black","logf":2.16,"lo":-9.53,"hi":-9.19},{"s":"black","logf":2.18,"lo":-9.53,"hi":-9.11},{"s":"black","logf":2.20,"lo":-9.58,"hi":-9.21},{"s":"black","logf":2.22,"lo":-9.65,"hi":-9.19},{"s":"black","logf":2.24,"lo":-9.61,"hi":-9.32},{"s":"black","logf":2.26,"lo":-9.73,"hi":-9.19},{"s":"black","logf":2.28,"lo":-9.68,"hi":-9.31},{"s":"black","logf":2.30,"lo":-9.77,"hi":-9.37},{"s":"black","logf":2.32,"lo":-9.72,"hi":-9.30},{"s":"black","logf":2.34,"lo":-9.85,"hi":-9.37},{"s":"black","logf":2.36,"lo":-9.84,"hi":-9.47},{"s":"black","logf":2.38,"lo":-9.88,"hi":-9.35},{"s":"black","logf":2.40,"lo":-9.88,"hi":-9.44},{"s":"black","logf":2.42,"lo":-9.92,"hi":-9.54},{"s":"black","logf":2.44,"lo":-10.00,"hi":-9.44},{"s":"black","logf":2.46,"lo":-9.95,"hi":-9.55},{"s":"black","logf":2.48,"lo":-10.09,"hi":-9.52},{"s":"black","logf":2.50,"lo":-10.02,"hi":-9.67},{"s":"black","logf":2.52,"lo":-10.12,"hi":-9.52},{"s":"black","logf":2.54,"lo":-10.06,"hi":-9.65},{"s":"black","logf":2.56,"lo":-10.21,"hi":-9.72},{"s":"black","logf":2.58,"lo":-10.19,"hi":-9.64},{"s":"black","logf":2.60,"lo":-10.23,"hi":-9.72},{"s":"black","logf":2.62,"lo":-10.23,"hi":-9.83},{"s":"black","logf":2.64,"lo":-10.27,"hi":-9.69},{"s":"black","logf":2.66,"lo":-10.36,"hi":-9.79},{"s":"black","logf":2.68,"lo":-10.30,"hi":-9.90},{"s":"black","logf":2.70,"lo":-10.45,"hi":-9.79},{"s":"black","logf":2.72,"lo":-10.37,"hi":-9.91},{"s":"black","logf":2.74,"lo":-10.48,"hi":-9.87},{"s":"black","logf":2.76,"lo":-10.41,"hi":-10.04},{"s":"black","logf":2.78,"lo":-10.57,"hi":-9.86},{"s":"black","logf":2.80,"lo":-10.55,"hi":-10.01},{"s":"black","logf":2.82,"lo":-10.60,"hi":-10.08},{"s":"black","logf":2.84,"lo":-10.58,"hi":-9.99},{"s":"black","logf":2.86,"lo":-10.63,"hi":-10.07},{"s":"black","logf":2.88,"lo":-10.72,"hi":-10.19},{"s":"black","logf":2.90,"lo":-10.65,"hi":-10.04},{"s":"black","logf":2.92,"lo":-10.82,"hi":-10.14},{"s":"black","logf":2.94,"lo":-10.73,"hi":-10.26},{"s":"black","logf":2.96,"lo":-10.84,"hi":-10.13},{"s":"black","logf":2.98,"lo":-10.76,"hi":-10.27},{"s":"black","logf":3.00,"lo":-10.94,"hi":-10.22},{"s":"black","logf":3.02,"lo":-10.91,"hi":-10.41},{"s":"black","logf":3.04,"lo":-10.96,"hi":-10.21},{"s":"black","logf":3.06,"lo":-10.94,"hi":-10.36},{"s":"black","logf":3.08,"lo":-10.99,"hi":-10.44},{"s":"black","logf":3.10,"lo":-11.09,"hi":-10.34},{"s":"black","logf":3.12,"lo":-11.00,"hi":-10.43},{"s":"black","logf":3.14,"lo":-11.19,"hi":-10.56},{"s":"black","logf":3.16,"lo":-11.08,"hi":-10.38},{"s":"black","logf":3.18,"lo":-11.20,"hi":-10.50},{"s":"black","logf":3.20,"lo":-11.11,"hi":-10.63},{"s":"black","logf":3.22,"lo":-11.29,"hi":-10.47},{"s":"black","logf":3.24,"lo":-11.25,"hi":-10.62},{"s":"black","logf":3.26,"lo":-11.29,"hi":-10.55},{"s":"black","logf":3.28,"lo":-11.27,"hi":-10.75},{"s":"black","logf":3.30,"lo":-11.31,"hi":-10.52},{"s":"black","logf":3.32,"lo":-11.41,"hi":-10.68},{"s":"black","logf":3.34,"lo":-11.31,"hi":-10.75},{"s":"black","logf":3.36,"lo":-11.50,"hi":-10.63},{"s":"black","logf":3.38,"lo":-11.38,"hi":-10.72},{"s":"black","logf":3.40,"lo":-11.50,"hi":-10.85},{"s":"black","logf":3.42,"lo":-11.38,"hi":-10.63},{"s":"black","logf":3.44,"lo":-11.57,"hi":-10.73},{"s":"black","logf":3.46,"lo":-11.50,"hi":-10.86},{"s":"black","logf":3.48,"lo":-11.54,"hi":-10.66},{"s":"black","logf":3.50,"lo":-11.49,"hi":-10.81},{"s":"black","logf":3.52,"lo":-11.53,"hi":-10.71},{"s":"black","logf":3.54,"lo":-11.62,"hi":-10.92},{"s":"black","logf":3.56,"lo":-11.49,"hi":-10.64},{"s":"black","logf":3.58,"lo":-11.70,"hi":-10.81},{"s":"black","logf":3.60,"lo":-11.54,"hi":-10.88},{"s":"black","logf":3.62,"lo":-11.66,"hi":-10.70},{"s":"black","logf":3.64,"lo":-11.52,"hi":-10.79},{"s":"black","logf":3.66,"lo":-11.73,"hi":-10.92},{"s":"black","logf":3.68,"lo":-11.65,"hi":-10.65},{"s":"black","logf":3.70,"lo":-11.68,"hi":-10.76},
{"s":"gray","logf":0.74,"lo":-12.21,"hi":-12.10},{"s":"gray","logf":0.76,"lo":-12.21,"hi":-12.09},{"s":"gray","logf":0.78,"lo":-12.26,"hi":-12.13},{"s":"gray","logf":0.80,"lo":-12.26,"hi":-12.17},{"s":"gray","logf":0.82,"lo":-12.32,"hi":-12.17},{"s":"gray","logf":0.84,"lo":-12.33,"hi":-12.21},{"s":"gray","logf":0.86,"lo":-12.36,"hi":-12.25},{"s":"gray","logf":0.88,"lo":-12.38,"hi":-12.23},{"s":"gray","logf":0.90,"lo":-12.41,"hi":-12.28},{"s":"gray","logf":0.92,"lo":-12.46,"hi":-12.33},{"s":"gray","logf":0.94,"lo":-12.46,"hi":-12.32},{"s":"gray","logf":0.96,"lo":-12.53,"hi":-12.37},{"s":"gray","logf":0.98,"lo":-12.53,"hi":-12.38},{"s":"gray","logf":1.00,"lo":-12.58,"hi":-12.45},{"s":"gray","logf":1.02,"lo":-12.58,"hi":-12.42},{"s":"gray","logf":1.04,"lo":-12.65,"hi":-12.48},{"s":"gray","logf":1.06,"lo":-12.66,"hi":-12.52},{"s":"gray","logf":1.08,"lo":-12.69,"hi":-12.52},{"s":"gray","logf":1.10,"lo":-12.71,"hi":-12.56},{"s":"gray","logf":1.12,"lo":-12.75,"hi":-12.62},{"s":"gray","logf":1.14,"lo":-12.79,"hi":-12.59},{"s":"gray","logf":1.16,"lo":-12.78,"hi":-12.63},{"s":"gray","logf":1.18,"lo":-12.85,"hi":-12.68},{"s":"gray","logf":1.20,"lo":-12.84,"hi":-12.66},{"s":"gray","logf":1.22,"lo":-12.88,"hi":-12.71},{"s":"gray","logf":1.24,"lo":-12.88,"hi":-12.71},{"s":"gray","logf":1.26,"lo":-12.94,"hi":-12.78},{"s":"gray","logf":1.28,"lo":-12.95,"hi":-12.73},{"s":"gray","logf":1.30,"lo":-12.98,"hi":-12.79},{"s":"gray","logf":1.32,"lo":-12.99,"hi":-12.83},{"s":"gray","logf":1.34,"lo":-13.02,"hi":-12.81},{"s":"gray","logf":1.36,"lo":-13.06,"hi":-12.85},{"s":"gray","logf":1.38,"lo":-13.05,"hi":-12.90},{"s":"gray","logf":1.40,"lo":-13.11,"hi":-12.86},{"s":"gray","logf":1.42,"lo":-13.09,"hi":-12.90},{"s":"gray","logf":1.44,"lo":-13.14,"hi":-12.95},{"s":"gray","logf":1.46,"lo":-13.12,"hi":-12.91},{"s":"gray","logf":1.48,"lo":-13.19,"hi":-12.97},{"s":"gray","logf":1.50,"lo":-13.19,"hi":-12.96},{"s":"gray","logf":1.52,"lo":-13.22,"hi":-13.04},{"s":"gray","logf":1.54,"lo":-13.22,"hi":-12.97},{"s":"gray","logf":1.56,"lo":-13.25,"hi":-13.04},{"s":"gray","logf":1.58,"lo":-13.29,"hi":-13.07},{"s":"gray","logf":1.60,"lo":-13.27,"hi":-13.04},{"s":"gray","logf":1.62,"lo":-13.33,"hi":-13.07},{"s":"gray","logf":1.64,"lo":-13.29,"hi":-13.12},{"s":"gray","logf":1.66,"lo":-13.33,"hi":-13.05},{"s":"gray","logf":1.68,"lo":-13.30,"hi":-13.08},{"s":"gray","logf":1.70,"lo":-13.36,"hi":-13.13},{"s":"gray","logf":1.72,"lo":-13.34,"hi":-13.07},{"s":"gray","logf":1.74,"lo":-13.36,"hi":-13.12},{"s":"gray","logf":1.76,"lo":-13.35,"hi":-13.10},{"s":"gray","logf":1.78,"lo":-13.36,"hi":-13.17},{"s":"gray","logf":1.80,"lo":-13.39,"hi":-13.08},{"s":"gray","logf":1.82,"lo":-13.35,"hi":-13.13},{"s":"gray","logf":1.84,"lo":-13.41,"hi":-13.15},{"s":"gray","logf":1.86,"lo":-13.36,"hi":-13.10},{"s":"gray","logf":1.88,"lo":-13.40,"hi":-13.13},{"s":"gray","logf":1.90,"lo":-13.35,"hi":-13.17},{"s":"gray","logf":1.92,"lo":-13.41,"hi":-13.09},{"s":"gray","logf":1.94,"lo":-13.39,"hi":-13.12},{"s":"gray","logf":1.96,"lo":-13.40,"hi":-13.16},{"s":"gray","logf":1.98,"lo":-13.38,"hi":-13.09},{"s":"gray","logf":2.00,"lo":-13.39,"hi":-13.14},{"s":"gray","logf":2.02,"lo":-13.42,"hi":-13.11},{"s":"gray","logf":2.04,"lo":-13.37,"hi":-13.18},{"s":"gray","logf":2.06,"lo":-13.43,"hi":-13.08},{"s":"gray","logf":2.08,"lo":-13.38,"hi":-13.14},{"s":"gray","logf":2.10,"lo":-13.41,"hi":-13.16},{"s":"gray","logf":2.12,"lo":-13.37,"hi":-13.10},{"s":"gray","logf":2.14,"lo":-13.43,"hi":-13.13},{"s":"gray","logf":2.16,"lo":-13.40,"hi":-13.18},{"s":"gray","logf":2.18,"lo":-13.41,"hi":-13.09},{"s":"gray","logf":2.20,"lo":-13.39,"hi":-13.13},{"s":"gray","logf":2.22,"lo":-13.40,"hi":-13.17},{"s":"gray","logf":2.24,"lo":-13.43,"hi":-13.10},{"s":"gray","logf":2.26,"lo":-13.38,"hi":-13.15},{"s":"gray","logf":2.28,"lo":-13.45,"hi":-13.12},{"s":"gray","logf":2.30,"lo":-13.40,"hi":-13.19},{"s":"gray","logf":2.32,"lo":-13.43,"hi":-13.10},{"s":"gray","logf":2.34,"lo":-13.39,"hi":-13.15},{"s":"gray","logf":2.36,"lo":-13.45,"hi":-13.18},{"s":"gray","logf":2.38,"lo":-13.43,"hi":-13.12},{"s":"gray","logf":2.40,"lo":-13.44,"hi":-13.15},{"s":"gray","logf":2.42,"lo":-13.42,"hi":-13.20},{"s":"gray","logf":2.44,"lo":-13.43,"hi":-13.11},{"s":"gray","logf":2.46,"lo":-13.46,"hi":-13.15},{"s":"gray","logf":2.48,"lo":-13.41,"hi":-13.20},{"s":"gray","logf":2.50,"lo":-13.48,"hi":-13.13},{"s":"gray","logf":2.52,"lo":-13.42,"hi":-13.18},{"s":"gray","logf":2.54,"lo":-13.46,"hi":-13.14},{"s":"gray","logf":2.56,"lo":-13.41,"hi":-13.22},{"s":"gray","logf":2.58,"lo":-13.48,"hi":-13.12},{"s":"gray","logf":2.60,"lo":-13.45,"hi":-13.18},{"s":"gray","logf":2.62,"lo":-13.46,"hi":-13.20},{"s":"gray","logf":2.64,"lo":-13.44,"hi":-13.14},{"s":"gray","logf":2.66,"lo":-13.45,"hi":-13.18},{"s":"gray","logf":2.68,"lo":-13.48,"hi":-13.22},{"s":"gray","logf":2.70,"lo":-13.43,"hi":-13.13},{"s":"gray","logf":2.72,"lo":-13.50,"hi":-13.17},{"s":"gray","logf":2.74,"lo":-13.44,"hi":-13.22},{"s":"gray","logf":2.76,"lo":-13.48,"hi":-13.15},{"s":"gray","logf":2.78,"lo":-13.43,"hi":-13.20},{"s":"gray","logf":2.80,"lo":-13.50,"hi":-13.17},{"s":"gray","logf":2.82,"lo":-13.47,"hi":-13.23},{"s":"gray","logf":2.84,"lo":-13.47,"hi":-13.12},{"s":"gray","logf":2.86,"lo":-13.44,"hi":-13.18},{"s":"gray","logf":2.88,"lo":-13.44,"hi":-13.19},{"s":"gray","logf":2.90,"lo":-13.47,"hi":-13.13},{"s":"gray","logf":2.92,"lo":-13.40,"hi":-13.10},{"s":"gray","logf":2.94,"lo":-13.38,"hi":-13.05},{"s":"gray","logf":2.96,"lo":-13.37,"hi":-13.08},{"s":"gray","logf":2.98,"lo":-13.30,"hi":-13.00},{"s":"gray","logf":3.00,"lo":-13.15,"hi":-12.80},{"s":"gray","logf":3.02,"lo":-13.05,"hi":-12.55},{"s":"gray","logf":3.04,"lo":-12.95,"hi":-12.62},{"s":"gray","logf":3.06,"lo":-12.90,"hi":-12.50},{"s":"gray","logf":3.08,"lo":-12.70,"hi":-12.05},{"s":"gray","logf":3.10,"lo":-12.55,"hi":-11.78},{"s":"gray","logf":3.12,"lo":-12.75,"hi":-11.95},{"s":"gray","logf":3.14,"lo":-13.00,"hi":-12.40},{"s":"gray","logf":3.16,"lo":-13.25,"hi":-12.70},{"s":"gray","logf":3.18,"lo":-13.40,"hi":-12.85},{"s":"gray","logf":3.20,"lo":-13.42,"hi":-12.95},{"s":"gray","logf":3.22,"lo":-13.40,"hi":-12.80},{"s":"gray","logf":3.24,"lo":-13.35,"hi":-12.65},{"s":"gray","logf":3.26,"lo":-13.10,"hi":-12.35},{"s":"gray","logf":3.28,"lo":-12.95,"hi":-12.02},{"s":"gray","logf":3.30,"lo":-12.85,"hi":-11.40},{"s":"gray","logf":3.32,"lo":-12.95,"hi":-11.85},{"s":"gray","logf":3.34,"lo":-13.30,"hi":-12.75},{"s":"gray","logf":3.36,"lo":-13.48,"hi":-13.10},{"s":"gray","logf":3.38,"lo":-13.40,"hi":-12.70},{"s":"gray","logf":3.40,"lo":-13.20,"hi":-12.25},{"s":"gray","logf":3.42,"lo":-13.30,"hi":-12.50},{"s":"gray","logf":3.44,"lo":-13.50,"hi":-13.05},{"s":"gray","logf":3.46,"lo":-13.55,"hi":-13.30},{"s":"gray","logf":3.48,"lo":-13.52,"hi":-13.05},{"s":"gray","logf":3.50,"lo":-13.45,"hi":-12.70},{"s":"gray","logf":3.52,"lo":-13.46,"hi":-12.80},{"s":"gray","logf":3.54,"lo":-13.48,"hi":-12.65},{"s":"gray","logf":3.56,"lo":-13.45,"hi":-12.75},{"s":"gray","logf":3.58,"lo":-13.47,"hi":-12.60},{"s":"gray","logf":3.60,"lo":-13.44,"hi":-12.80},{"s":"gray","logf":3.62,"lo":-13.47,"hi":-12.62},{"s":"gray","logf":3.64,"lo":-13.45,"hi":-12.78},{"s":"gray","logf":3.66,"lo":-13.48,"hi":-12.70},{"s":"gray","logf":3.68,"lo":-13.46,"hi":-12.55},{"s":"gray","logf":3.70,"lo":-13.45,"hi":-12.75}
],
"psd_spike": [
{"s":"black","logf":2.96,"lo":-10.51,"hi":-9.87},{"s":"black","logf":3.04,"lo":-10.63,"hi":-10.15},{"s":"black","logf":3.09,"lo":-10.70,"hi":-9.82},{"s":"black","logf":3.13,"lo":-10.76,"hi":-9.84},{"s":"black","logf":3.18,"lo":-10.84,"hi":-9.94},{"s":"black","logf":3.22,"lo":-10.89,"hi":-10.46},{"s":"black","logf":3.27,"lo":-10.95,"hi":-10.50},{"s":"black","logf":3.50,"lo":-11.15,"hi":-10.43},{"s":"black","logf":3.55,"lo":-11.17,"hi":-10.39},{"s":"black","logf":3.63,"lo":-11.20,"hi":-10.39},{"s":"black","logf":3.65,"lo":-11.21,"hi":-9.31},{"s":"black","logf":3.68,"lo":-11.21,"hi":-10.43},
{"s":"gray","logf":1.97,"lo":-13.25,"hi":-12.35},{"s":"gray","logf":2.23,"lo":-13.27,"hi":-12.88},{"s":"gray","logf":2.25,"lo":-13.27,"hi":-12.31},{"s":"gray","logf":2.37,"lo":-13.28,"hi":-12.87},{"s":"gray","logf":2.48,"lo":-13.30,"hi":-12.59},{"s":"gray","logf":2.72,"lo":-13.32,"hi":-12.73},{"s":"gray","logf":2.82,"lo":-13.32,"hi":-12.88},{"s":"gray","logf":2.96,"lo":-13.30,"hi":-11.40},{"s":"gray","logf":3.09,"lo":-12.70,"hi":-11.37},{"s":"gray","logf":3.30,"lo":-12.90,"hi":-11.33},{"s":"gray","logf":3.35,"lo":-13.10,"hi":-12.14},{"s":"gray","logf":3.45,"lo":-13.30,"hi":-12.35},{"s":"gray","logf":3.50,"lo":-13.30,"hi":-11.96},{"s":"gray","logf":3.59,"lo":-13.30,"hi":-12.55},{"s":"gray","logf":3.65,"lo":-13.30,"hi":-11.61}
],
"panel_tags": [{"tag":"a)"},{"tag":"b)"}]
},
"vconcat": [
 {
  "vconcat": [
   {
    "width": 530, "height": 113,
    "layer": [
     {"data": {"name": "levels"}, "transform": [{"filter": "datum.p == 'i'"}], "mark": {"type": "rule", "strokeWidth": 1.5, "color": "black"},
      "encoding": {"y": {"field": "level", "type": "quantitative", "scale": {"domain": [0, 113], "nice": false, "zero": false}, "axis": null}}},
     {"data": {"name": "traces"}, "transform": [{"filter": "datum.p == 'i'"}], "mark": {"type": "line", "strokeWidth": 1.8, "color": "black"},
      "encoding": {"x": {"field": "t", "type": "quantitative", "scale": {"domain": [0, 7], "nice": false, "zero": false}, "axis": null}, "y": {"field": "v", "type": "quantitative", "axis": null}}},
     {"data": {"name": "ticks"}, "mark": {"type": "rule", "strokeWidth": 3, "color": "black"},
      "encoding": {"x": {"field": "t", "type": "quantitative"}, "y": {"datum": 0}, "y2": {"datum": 9}}},
     {"data": {"name": "panel_tags"}, "transform": [{"filter": "datum.tag == 'a)'"}], "mark": {"type": "text", "align": "left", "baseline": "alphabetic", "fontSize": 26, "fontWeight": "bold"},
      "encoding": {"x": {"datum": -1.06}, "y": {"datum": 98}, "text": {"field": "tag"}}},
     {"data": {"name": "labels"}, "transform": [{"filter": "datum.p == 'i'"}], "mark": {"type": "text", "align": "left", "baseline": "alphabetic", "fontSize": 19, "fontWeight": "bold"},
      "encoding": {"x": {"datum": 0.17}, "y": {"datum": 93}, "text": {"field": "roman"}}},
     {"data": {"name": "labels"}, "transform": [{"filter": "datum.p == 'i'"}], "mark": {"type": "text", "align": "left", "baseline": "alphabetic", "fontSize": 19, "fontWeight": "bold"},
      "encoding": {"x": {"datum": 0.95}, "y": {"datum": 93}, "text": {"value": "I"}}},
     {"data": {"name": "labels"}, "transform": [{"filter": "datum.p == 'i'"}], "mark": {"type": "text", "align": "left", "baseline": "alphabetic", "fontSize": 12, "fontWeight": "bold"},
      "encoding": {"x": {"datum": 1.02}, "y": {"datum": 87}, "text": {"value": "max"}}},
     {"data": {"name": "labels"}, "transform": [{"filter": "datum.p == 'i'"}], "mark": {"type": "text", "align": "left", "baseline": "alphabetic", "fontSize": 19, "fontWeight": "bold"},
      "encoding": {"x": {"datum": 1.35}, "y": {"datum": 93}, "text": {"field": "imax"}}},
     {"data": {"name": "labels"}, "transform": [{"filter": "datum.p == 'i'"}], "mark": {"type": "text", "align": "left", "baseline": "alphabetic", "fontSize": 19, "fontWeight": "bold"},
      "encoding": {"x": {"datum": 3.28}, "y": {"datum": 93}, "text": {"value": "I"}}},
     {"data": {"name": "labels"}, "transform": [{"filter": "datum.p == 'i'"}], "mark": {"type": "text", "align": "left", "baseline": "alphabetic", "fontSize": 12, "fontWeight": "bold"},
      "encoding": {"x": {"datum": 3.35}, "y": {"datum": 87}, "text": {"value": "min"}}},
     {"data": {"name": "labels"}, "transform": [{"filter": "datum.p == 'i'"}], "mark": {"type": "text", "align": "left", "baseline": "alphabetic", "fontSize": 19, "fontWeight": "bold"},
      "encoding": {"x": {"datum": 3.62}, "y": {"datum": 93}, "text": {"field": "imin"}}},
     {"data": {"name": "labels"}, "transform": [{"filter": "datum.p == 'i'"}], "mark": {"type": "text", "align": "left", "baseline": "alphabetic", "fontSize": 19, "fontWeight": "bold"},
      "encoding": {"x": {"datum": 5.85}, "y": {"datum": 93}, "text": {"field": "dI"}}},
     {"data": {"name": "labels"}, "transform": [{"filter": "datum.p == 'i'"}], "mark": {"type": "text", "align": "left", "baseline": "alphabetic", "fontSize": 16, "fontWeight": "bold"},
      "encoding": {"x": {"datum": 0.16}, "y": {"datum": 8}, "text": {"field": "scale"}}}
    ]
   },
   {
    "width": 530, "height": 124,
    "layer": [
     {"data": {"name": "levels"}, "transform": [{"filter": "datum.p == 'ii'"}], "mark": {"type": "rule", "strokeWidth": 1.5, "color": "black"},
      "encoding": {"y": {"field": "level", "type": "quantitative", "scale": {"domain": [0, 124], "nice": false, "zero": false}, "axis": {"title": "Current", "labels": false, "ticks": false, "domain": false, "titleFontSize": 27, "titlePadding": 5}}}},
     {"data": {"name": "traces"}, "transform": [{"filter": "datum.p == 'ii'"}], "mark": {"type": "line", "strokeWidth": 1.8, "color": "black"},
      "encoding": {"x": {"field": "t", "type": "quantitative", "scale": {"domain": [0, 7], "nice": false, "zero": false}, "axis": null}, "y": {"field": "v", "type": "quantitative"}}},
     {"data": {"name": "ticks"}, "mark": {"type": "rule", "strokeWidth": 3, "color": "black"},
      "encoding": {"x": {"field": "t", "type": "quantitative"}, "y": {"datum": 0}, "y2": {"datum": 9}}},
     {"data": {"name": "labels"}, "transform": [{"filter": "datum.p == 'ii'"}], "mark": {"type": "text", "align": "left", "baseline": "alphabetic", "fontSize": 19, "fontWeight": "bold"},
      "encoding": {"x": {"datum": 0.17}, "y": {"datum": 97}, "text": {"field": "roman"}}},
     {"data": {"name": "labels"}, "transform": [{"filter": "datum.p == 'ii'"}], "mark": {"type": "text", "align": "left", "baseline": "alphabetic", "fontSize": 19, "fontWeight": "bold"},
      "encoding": {"x": {"datum": 0.95}, "y": {"datum": 97}, "text": {"value": "I"}}},
     {"data": {"name": "labels"}, "transform": [{"filter": "datum.p == 'ii'"}], "mark": {"type": "text", "align": "left", "baseline": "alphabetic", "fontSize": 12, "fontWeight": "bold"},
      "encoding": {"x": {"datum": 1.02}, "y": {"datum": 91}, "text": {"value": "max"}}},
     {"data": {"name": "labels"}, "transform": [{"filter": "datum.p == 'ii'"}], "mark": {"type": "text", "align": "left", "baseline": "alphabetic", "fontSize": 19, "fontWeight": "bold"},
      "encoding": {"x": {"datum": 1.35}, "y": {"datum": 97}, "text": {"field": "imax"}}},
     {"data": {"name": "labels"}, "transform": [{"filter": "datum.p == 'ii'"}], "mark": {"type": "text", "align": "left", "baseline": "alphabetic", "fontSize": 19, "fontWeight": "bold"},
      "encoding": {"x": {"datum": 3.28}, "y": {"datum": 97}, "text": {"value": "I"}}},
     {"data": {"name": "labels"}, "transform": [{"filter": "datum.p == 'ii'"}], "mark": {"type": "text", "align": "left", "baseline": "alphabetic", "fontSize": 12, "fontWeight": "bold"},
      "encoding": {"x": {"datum": 3.35}, "y": {"datum": 91}, "text": {"value": "min"}}},
     {"data": {"name": "labels"}, "transform": [{"filter": "datum.p == 'ii'"}], "mark": {"type": "text", "align": "left", "baseline": "alphabetic", "fontSize": 19, "fontWeight": "bold"},
      "encoding": {"x": {"datum": 3.62}, "y": {"datum": 97}, "text": {"field": "imin"}}},
     {"data": {"name": "labels"}, "transform": [{"filter": "datum.p == 'ii'"}], "mark": {"type": "text", "align": "left", "baseline": "alphabetic", "fontSize": 19, "fontWeight": "bold"},
      "encoding": {"x": {"datum": 5.85}, "y": {"datum": 97}, "text": {"field": "dI"}}},
     {"data": {"name": "labels"}, "transform": [{"filter": "datum.p == 'ii'"}], "mark": {"type": "text", "align": "left", "baseline": "alphabetic", "fontSize": 16, "fontWeight": "bold"},
      "encoding": {"x": {"datum": 0.16}, "y": {"datum": 6}, "text": {"field": "scale"}}}
    ]
   },
   {
    "width": 530, "height": 126,
    "layer": [
     {"data": {"name": "levels"}, "transform": [{"filter": "datum.p == 'iii'"}], "mark": {"type": "rule", "strokeWidth": 1.5, "color": "black"},
      "encoding": {"y": {"field": "level", "type": "quantitative", "scale": {"domain": [0, 126], "nice": false, "zero": false}, "axis": null}}},
     {"data": {"name": "traces"}, "transform": [{"filter": "datum.p == 'iii'"}], "mark": {"type": "line", "strokeWidth": 2, "color": "black"},
      "encoding": {"x": {"field": "t", "type": "quantitative", "scale": {"domain": [0, 7], "nice": false, "zero": false}, "axis": {"title": "Time", "labels": false, "ticks": false, "domain": false, "titleFontSize": 27, "titlePadding": 5}}, "y": {"field": "v", "type": "quantitative", "axis": null}}},
     {"data": {"name": "ticks"}, "mark": {"type": "rule", "strokeWidth": 3, "color": "black"},
      "encoding": {"x": {"field": "t", "type": "quantitative"}, "y": {"datum": 0}, "y2": {"datum": 9}}},
     {"data": {"name": "labels"}, "transform": [{"filter": "datum.p == 'iii'"}], "mark": {"type": "text", "align": "left", "baseline": "alphabetic", "fontSize": 19, "fontWeight": "bold"},
      "encoding": {"x": {"datum": 0.14}, "y": {"datum": 100}, "text": {"field": "roman"}}},
     {"data": {"name": "labels"}, "transform": [{"filter": "datum.p == 'iii'"}], "mark": {"type": "text", "align": "left", "baseline": "alphabetic", "fontSize": 19, "fontWeight": "bold"},
      "encoding": {"x": {"datum": 0.95}, "y": {"datum": 100}, "text": {"value": "I"}}},
     {"data": {"name": "labels"}, "transform": [{"filter": "datum.p == 'iii'"}], "mark": {"type": "text", "align": "left", "baseline": "alphabetic", "fontSize": 12, "fontWeight": "bold"},
      "encoding": {"x": {"datum": 1.02}, "y": {"datum": 94}, "text": {"value": "max"}}},
     {"data": {"name": "labels"}, "transform": [{"filter": "datum.p == 'iii'"}], "mark": {"type": "text", "align": "left", "baseline": "alphabetic", "fontSize": 19, "fontWeight": "bold"},
      "encoding": {"x": {"datum": 1.35}, "y": {"datum": 100}, "text": {"field": "imax"}}},
     {"data": {"name": "labels"}, "transform": [{"filter": "datum.p == 'iii'"}], "mark": {"type": "text", "align": "left", "baseline": "alphabetic", "fontSize": 19, "fontWeight": "bold"},
      "encoding": {"x": {"datum": 3.28}, "y": {"datum": 100}, "text": {"value": "I"}}},
     {"data": {"name": "labels"}, "transform": [{"filter": "datum.p == 'iii'"}], "mark": {"type": "text", "align": "left", "baseline": "alphabetic", "fontSize": 12, "fontWeight": "bold"},
      "encoding": {"x": {"datum": 3.35}, "y": {"datum": 94}, "text": {"value": "min"}}},
     {"data": {"name": "labels"}, "transform": [{"filter": "datum.p == 'iii'"}], "mark": {"type": "text", "align": "left", "baseline": "alphabetic", "fontSize": 19, "fontWeight": "bold"},
      "encoding": {"x": {"datum": 3.62}, "y": {"datum": 100}, "text": {"field": "imin"}}},
     {"data": {"name": "labels"}, "transform": [{"filter": "datum.p == 'iii'"}], "mark": {"type": "text", "align": "left", "baseline": "alphabetic", "fontSize": 19, "fontWeight": "bold"},
      "encoding": {"x": {"datum": 5.85}, "y": {"datum": 100}, "text": {"field": "dI"}}},
     {"data": {"name": "labels"}, "transform": [{"filter": "datum.p == 'iii'"}], "mark": {"type": "text", "align": "left", "baseline": "alphabetic", "fontSize": 16, "fontWeight": "bold"},
      "encoding": {"x": {"datum": 0.16}, "y": {"datum": 11}, "text": {"field": "scale"}}}
    ]
   }
  ],
  "spacing": 0,
  "bounds": "flush"
 },
 {
  "width": 528, "height": 430,
  "layer": [
   {"data": {"name": "psd_band"}, "mark": {"type": "area"},
    "encoding": {
     "x": {"field": "logf", "type": "quantitative", "scale": {"domain": [-1, 4], "nice": false, "zero": false},
       "axis": {"orient": "bottom", "values": [-1, 0, 1, 2, 3, 4], "labelExpr": "datum.value == -1 ? '10⁻¹' : datum.value == 0 ? '10⁰' : datum.value == 1 ? '10¹' : datum.value == 2 ? '10²' : datum.value == 3 ? '10³' : '10⁴'", "labelFontSize": 28, "labelPadding": 25, "title": "Frequency (Hz)", "titleFontSize": 27, "titlePadding": 13}},
     "y": {"field": "lo", "type": "quantitative", "scale": {"domain": [-14, -5], "nice": false, "zero": false},
       "axis": {"orient": "left", "values": [-14, -13, -12, -11, -10, -9, -8, -7, -6], "labelExpr": "datum.value == -6 ? '10⁻⁶' : datum.value == -8 ? '10⁻⁸' : datum.value == -10 ? '10⁻¹⁰' : datum.value == -12 ? '10⁻¹²' : datum.value == -14 ? '10⁻¹⁴' : ''", "labelFontSize": 28, "labelPadding": 20, "title": "PSD/I² (Hz⁻¹ )", "titleFontSize": 26, "titlePadding": 0}},
     "y2": {"field": "hi"},
     "color": {"field": "s", "type": "nominal", "scale": {"domain": ["black", "gray"], "range": ["#000000", "#808080"]}, "legend": null}
    }},
   {"data": {"name": "psd_line"}, "mark": {"type": "line", "strokeWidth": 1.1},
    "encoding": {
     "x": {"field": "logf", "type": "quantitative", "axis": {"orient": "top", "values": [0, 1, 2, 3], "labels": false, "title": null}},
     "y": {"field": "logp", "type": "quantitative", "axis": {"orient": "right", "values": [-13, -12, -11, -10, -9, -8, -7, -6], "labels": false, "title": null}},
     "color": {"field": "s", "type": "nominal", "legend": null}
    }},
   {"data": {"name": "psd_spike"}, "mark": {"type": "rule", "strokeWidth": 1.2},
    "encoding": {
     "x": {"field": "logf", "type": "quantitative", "axis": null},
     "y": {"field": "lo", "type": "quantitative", "axis": null},
     "y2": {"field": "hi"},
     "color": {"field": "s", "type": "nominal", "legend": null}
    }},
   {"data": {"name": "panel_tags"}, "transform": [{"filter": "datum.tag == 'b)'"}], "mark": {"type": "text", "align": "left", "baseline": "alphabetic", "fontSize": 26, "fontWeight": "bold"},
    "encoding": {"x": {"datum": -1.79, "axis": null}, "y": {"datum": -5.21, "axis": null}, "text": {"field": "tag"}}}
  ],
  "resolve": {"axis": {"x": "independent", "y": "independent"}}
 }
],
"spacing": -5
}
